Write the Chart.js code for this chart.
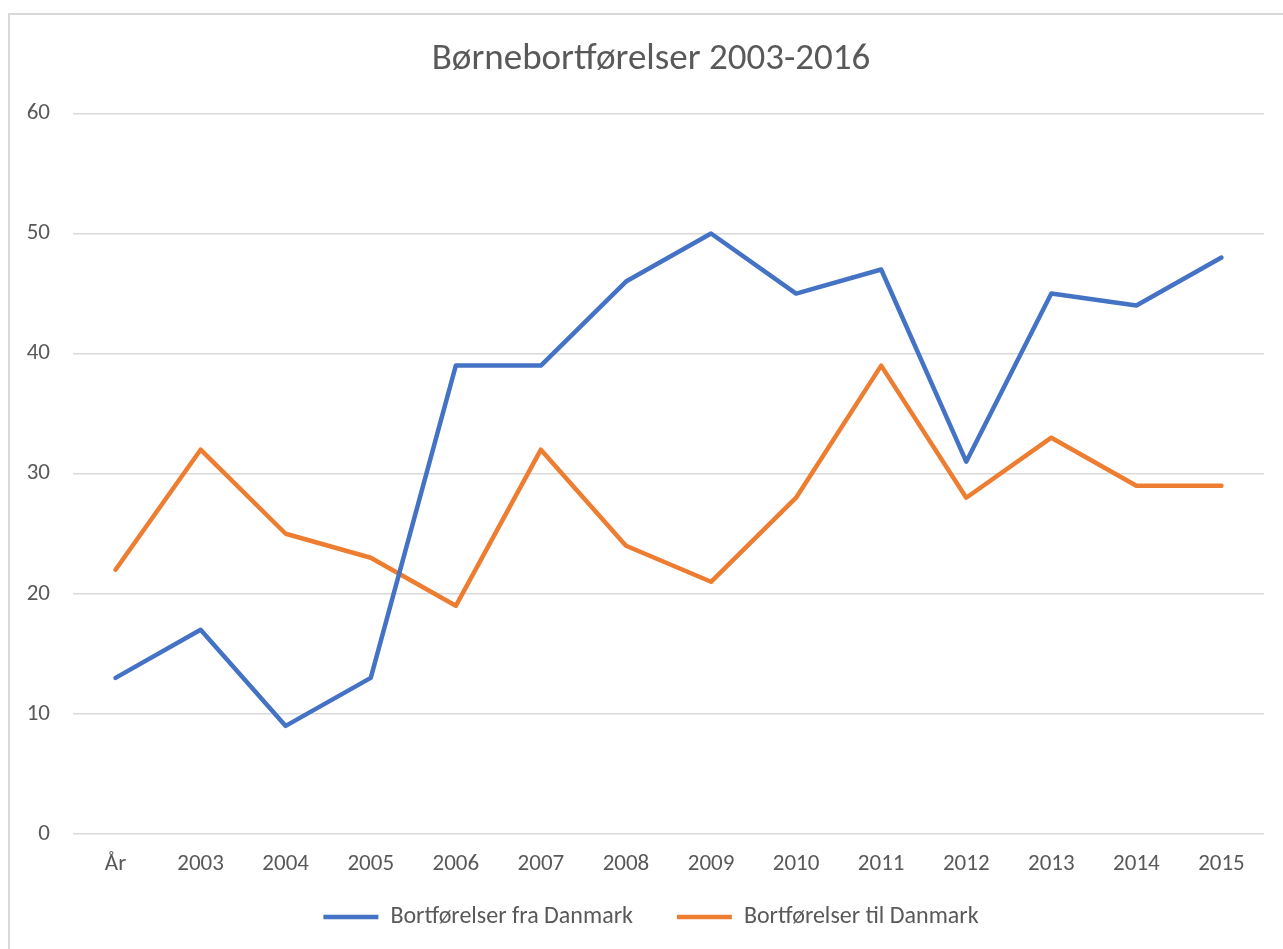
<!DOCTYPE html>
<html>
<head>
<meta charset="utf-8">
<script src="https://cdn.jsdelivr.net/npm/chart.js@4"></script>
<style>
  body { margin: 0; background: #fff; overflow: hidden; }
  #wrap { position: relative; width: 1283px; height: 949px; }
  #frame { position: absolute; left: 8px; top: 13px; width: 1300px; height: 960px; border: 2px solid #d9d9d9; box-sizing: border-box; }
  canvas { position: absolute; left: 0; top: 0; }
</style>
</head>
<body>
<div id="wrap">
  <div id="frame"></div>
  <canvas id="myLineChart" width="1283" height="949"></canvas>
</div>
<script>
const categories = ['År', '2003', '2004', '2005', '2006', '2007', '2008', '2009', '2010', '2011', '2012', '2013', '2014', '2015'];
const fraDanmark = [13, 17, 9, 13, 39, 39, 46, 50, 45, 47, 31, 45, 44, 48];
const tilDanmark = [22, 32, 25, 23, 19, 32, 24, 21, 28, 39, 28, 33, 29, 29];
const yTicks = [0, 10, 20, 30, 40, 50, 60];

// let tick labels draw outside the (squeezed) scale boxes
function noLabelClip(scale) {
    scale._computeLabelArea = function() { return undefined; };
}

document.addEventListener('DOMContentLoaded', function() {
    const ctx = document.getElementById('myLineChart').getContext('2d');
    const fontFamily = 'Carlito, Lato, sans-serif';

    new Chart(ctx, {
        type: 'line',
        data: {
            labels: categories,
            datasets: [
                {
                    label: 'Bortførelser fra Danmark',
                    data: fraDanmark,
                    borderColor: '#4472C4',
                    backgroundColor: '#4472C4',
                    borderWidth: 4.5,
                    pointRadius: 0,
                    borderCapStyle: 'round',
                    borderJoinStyle: 'round',
                    tension: 0
                },
                {
                    label: 'Bortførelser til Danmark',
                    data: tilDanmark,
                    borderColor: '#ED7D31',
                    backgroundColor: '#ED7D31',
                    borderWidth: 4.5,
                    pointRadius: 0,
                    borderCapStyle: 'round',
                    borderJoinStyle: 'round',
                    tension: 0
                }
            ]
        },
        options: {
            responsive: false,
            animation: false,
            layout: {
                padding: { left: 38, right: 19, top: 0, bottom: 10 }
            },
            plugins: {
                title: {
                    display: true,
                    text: 'Børnebortførelser 2003-2016',
                    color: '#595959',
                    font: { family: fontFamily, size: 37, weight: 'normal' },
                    padding: { top: 38, bottom: 31 }
                },
                legend: {
                    position: 'bottom',
                    labels: {
                        color: '#595959',
                        font: { family: fontFamily, size: 24 },
                        usePointStyle: true,
                        pointStyle: 'line',
                        pointStyleWidth: 55,
                        padding: 44
                    }
                },
                tooltip: { enabled: false }
            },
            scales: {
                x: {
                    offset: true,
                    afterFit: function(scale) { scale.height = 27; noLabelClip(scale); },
                    grid: { display: false },
                    border: { display: false },
                    ticks: {
                        color: '#595959',
                        font: { family: fontFamily, size: 23 },
                        padding: 8,
                        maxRotation: 0,
                        autoSkip: false
                    }
                },
                y: {
                    min: 0,
                    max: 60,
                    afterFit: function(scale) { scale.width = 35; noLabelClip(scale); },
                    afterBuildTicks: function(scale) {
                        scale.ticks = yTicks.map(v => ({ value: v }));
                    },
                    grid: { color: '#d9d9d9', lineWidth: 1.5, drawTicks: false },
                    border: { display: false },
                    ticks: {
                        color: '#595959',
                        font: { family: fontFamily, size: 23 },
                        padding: 23
                    }
                }
            }
        }
    });
});
</script>
</body>
</html>
